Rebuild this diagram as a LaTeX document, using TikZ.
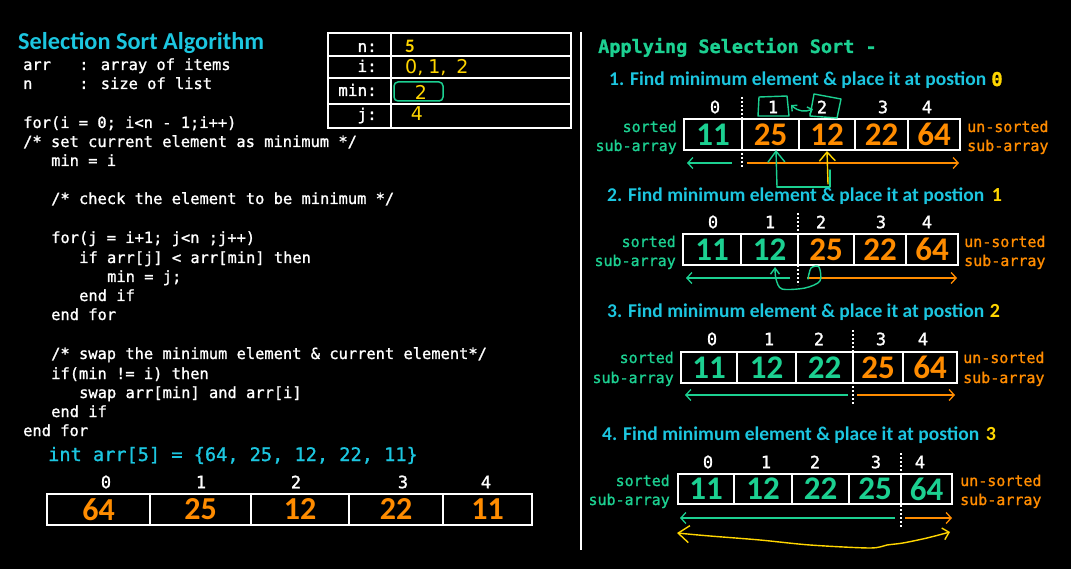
\documentclass[tikz,border=0pt]{standalone}
\usepackage{fontspec}
\setmainfont{Carlito}
\newfontfamily\codefont{DejaVu Sans Mono}[RawFeature={embolden=1.2}]
\newfontfamily\handfont{DejaVu Sans}
\usetikzlibrary{arrows.meta}
\definecolor{cyn}{RGB}{28,198,224}
\definecolor{grn}{RGB}{28,208,145}
\definecolor{org}{RGB}{255,140,0}
\definecolor{ylw}{RGB}{255,214,0}
\tikzset{
  code/.style={anchor=base west, inner sep=0pt, text=white, font=\codefont\fontsize{15.4}{18}\selectfont},
  idx/.style={text=white, inner sep=0pt, font=\codefont\fontsize{17}{18}\selectfont},
  cell/.style={draw=white, line width=1.3pt, inner sep=0pt, font=\bfseries\fontsize{33}{33}\selectfont},
  lcell/.style={draw=white, line width=1.3pt, inner sep=0pt, text=org, font=\bfseries\fontsize{32}{32}\selectfont},
  head/.style={anchor=base west, inner sep=0pt, text=cyn, font=\bfseries\fontsize{19.5}{22}\selectfont},
  posnum/.style={anchor=base, inner sep=0pt, text=ylw, font=\bfseries\fontsize{20}{22}\selectfont},
  labl/.style={inner sep=0pt, font=\codefont\fontsize{15}{17}\selectfont},
  tlab/.style={anchor=base east, inner sep=0pt, text=white, font=\codefont\fontsize{16}{18}\selectfont},
  hand/.style={inner sep=0pt, text=ylw, font=\handfont\fontsize{19}{20}\selectfont},
  sarrow/.style={draw=grn, line width=1.3pt, -{Straight Barb[length=5pt,width=11pt]}},
  uarrow/.style={draw=org, line width=1.3pt, -{Straight Barb[length=5pt,width=11pt]}},
  divline/.style={draw=white, line width=1.6pt, dash pattern=on 2pt off 2pt},
  handline/.style={line width=1.4pt, line cap=round, line join=round},
}
\begin{document}
\begin{tikzpicture}[x=1pt,y=-1pt]
\fill[black] (0,0) rectangle (1071,569);
\useasboundingbox (0,0) rectangle (1071,569);

% ---------------- left: algorithm ----------------
\node[anchor=base west, inner sep=0pt, text=cyn, font=\bfseries\fontsize{24.3}{26}\selectfont] (title) at (18,50) {Selection Sort Algorithm};
\node[code] (c1a) at (23,70) {arr};
\node[code] (c1b) at (79,70) {: array of items};
\node[code] (c2a) at (23,89) {n};
\node[code] (c2b) at (79,89) {: size of list};
\node[code] (c3) at (23,128) {for(i = 0; i<n - 1;i++)};
\node[code] (c4) at (23,147) {/* set current element as minimum */};
\node[code] (c5) at (51,166) {min = i};
\node[code] (c6) at (51,204) {/* check the element to be minimum */};
\node[code] (c7) at (51,243) {for(j = i+1; j<n ;j++)};
\node[code] (c8) at (79,263) {if arr[j] < arr[min] then};
\node[code] (c9) at (107,282) {min = j;};
\node[code] (c10) at (79,301) {end if};
\node[code] (c11) at (51,320) {end for};
\node[code] (c12) at (51,359) {/* swap the minimum element \& current element*/};
\node[code] (c13) at (51,379) {if(min != i) then};
\node[code] (c14) at (79,398) {swap arr[min] and arr[i]};
\node[code] (c15) at (51,417) {end if};
\node[code] (c16) at (23,436) {end for};

% variable table
\draw[white, line width=1.5pt] (328,33) rectangle (571,128);
\draw[white, line width=1.5pt] (328,56) -- (571,56) (328,78) -- (571,78) (328,104) -- (571,104) (391,33) -- (391,128);
\node[tlab] (tn) at (377,52) {n:};
\node[tlab] (ti) at (377,72) {i:};
\node[tlab] (tm) at (377,96) {min:};
\node[tlab] (tj) at (377,120) {j:};
\node[anchor=base west, inner sep=0pt, text=ylw, font=\bfseries\fontsize{19}{20}\selectfont] (vn) at (405,53) {5};
\node[hand, anchor=base west] (vi) at (405,74) {0,\hspace{5pt}1,\hspace{10pt}2};
\node[hand] (vm) at (421,92) {2};
\draw[grn, line width=1.5pt, rounded corners=4pt] (394,82) rectangle (443,101);
\node[hand] (vj) at (417,114) {4};

% initial array
\node[anchor=base west, inner sep=0pt, text=cyn, font=\codefont\fontsize{18.6}{20}\selectfont] (init) at (48,461) {int arr[5] = \{64, 25, 12, 22, 11\}};
\foreach \i/\x in {0/106,1/201,2/296,3/403,4/486}
  \node[idx] (b\i) at (\x,482) {\i};
\foreach \i/\xa/\xb/\v in {0/47/150/64,1/150/251/25,2/251/349/12,3/349/443/22,4/443/532/11}
  \node[lcell, minimum width={\xb-\xa}, minimum height=31] (bc\i) at ({(\xa+\xb)/2},509.5) {\v};

% vertical divider
\draw[white, line width=1.5pt] (581,32) -- (581,550);

% ---------------- right: applying ----------------
\node[anchor=base west, inner sep=0pt, text=grn, font=\codefont\bfseries\fontsize{18.5}{20}\selectfont] (apply) at (598,53) {Applying Selection Sort -};

% ===== step 1 =====
\node[head] (h1) at (609,86) {1. Find minimum element \& place it at postion};
\node[anchor=base, inner sep=0pt, text=ylw, font=\codefont\bfseries\fontsize{19}{20}\selectfont] (p1) at (997,86) {0};
\foreach \i/\x in {0/715,1/773,2/822,3/883,4/927}
  \node[idx] (r1i\i) at (\x,107) {\i};
\foreach \i/\xa/\xb/\c/\v in {0/684/742/grn/11,1/742/799/org/25,2/799/855/org/12,3/855/908/org/22,4/908/960/org/64}
  \node[cell, text=\c, minimum width={\xb-\xa}, minimum height=31] (r1c\i) at ({(\xa+\xb)/2},134.5) {\v};
\node[labl, anchor=base east, text=grn] (r1s1) at (677,132) {sorted};
\node[labl, anchor=base east, text=grn] (r1s2) at (677,151) {sub-array};
\node[labl, anchor=base west, text=org] (r1u1) at (967,132) {un-sorted};
\node[labl, anchor=base west, text=org] (r1u2) at (967,151) {sub-array};
\coordinate (r1dt) at (742,97); \coordinate (r1db) at (742,168);
\draw[divline] (r1dt) -- (r1db);
\coordinate (r1g0) at (732,163); \coordinate (r1g1) at (687,163);
\coordinate (r1o0) at (747,163); \coordinate (r1o1) at (959,163);
\draw[sarrow] (r1g0) -- (r1g1);
\draw[uarrow] (r1o0) -- (r1o1);
% hand annotations step 1
\draw[grn, handline] (759,97) -- (787,96) -- (789,116) -- (758,116) -- cycle;
\draw[grn, handline] (814,94) -- (841,99) -- (837,118) -- (810,116) -- cycle;
\draw[grn, handline, {Straight Barb[length=4pt,width=8pt]}-{Straight Barb[length=4pt,width=8pt]}] (791,105) .. controls (799,112) and (805,112) .. (813,109);
\draw[grn, handline] (830,170) -- (830,187) -- (777,187);
\draw[grn, handline, -{Straight Barb[length=11pt,width=17pt]}] (777,187) -- (776,150);
\draw[ylw, handline, -{Straight Barb[length=9pt,width=16pt]}] (828,184) -- (827,151);

% ===== step 2 =====
\node[head] (h2) at (607,202) {2. Find minimum element \& place it at postion};
\node[posnum] (p2) at (997,202) {1};
\foreach \i/\x in {0/713,1/770,2/821,3/881,4/927}
  \node[idx] (r2i\i) at (\x,222) {\i};
\foreach \i/\xa/\xb/\c/\v in {0/683/741/grn/11,1/741/798/grn/12,2/798/854/org/25,3/854/906/org/22,4/906/958/org/64}
  \node[cell, text=\c, minimum width={\xb-\xa}, minimum height=31] (r2c\i) at ({(\xa+\xb)/2},249.5) {\v};
\node[labl, anchor=base east, text=grn] (r2s1) at (676,247) {sorted};
\node[labl, anchor=base east, text=grn] (r2s2) at (676,266) {sub-array};
\node[labl, anchor=base west, text=org] (r2u1) at (964,247) {un-sorted};
\node[labl, anchor=base west, text=org] (r2u2) at (964,266) {sub-array};
\coordinate (r2dt) at (798,213); \coordinate (r2db) at (798,285);
\draw[divline] (r2dt) -- (r2db);
\coordinate (r2g0) at (790,278); \coordinate (r2g1) at (686,278);
\coordinate (r2o0) at (807,278); \coordinate (r2o1) at (957,278);
\draw[sarrow] (r2g0) -- (r2g1);
\draw[uarrow] (r2o0) -- (r2o1);
\draw[grn, handline, -{Straight Barb[length=6pt,width=9pt]}] plot[smooth] coordinates {(808,279) (811,268) (819,267) (820,281) (805,288) (782,289) (776,279) (775,267)};

% ===== step 3 =====
\node[head] (h3) at (607,318) {3. Find minimum element \& place it at postion};
\node[posnum] (p3) at (995,318) {2};
\foreach \i/\x in {0/712,1/769,2/819,3/881,4/923}
  \node[idx] (r3i\i) at (\x,339) {\i};
\foreach \i/\xa/\xb/\c/\v in {0/681/737/grn/11,1/737/796/grn/12,2/796/853/grn/22,3/853/903/org/25,4/903/957/org/64}
  \node[cell, text=\c, minimum width={\xb-\xa}, minimum height=31] (r3c\i) at ({(\xa+\xb)/2},367.5) {\v};
\node[labl, anchor=base east, text=grn] (r3s1) at (674,363) {sorted};
\node[labl, anchor=base east, text=grn] (r3s2) at (674,383) {sub-array};
\node[labl, anchor=base west, text=org] (r3u1) at (963,363) {un-sorted};
\node[labl, anchor=base west, text=org] (r3u2) at (963,383) {sub-array};
\coordinate (r3dt) at (853,330); \coordinate (r3db) at (853,405);
\draw[divline] (r3dt) -- (r3db);
\coordinate (r3g0) at (848,395); \coordinate (r3g1) at (685,395);
\coordinate (r3o0) at (857,395); \coordinate (r3o1) at (955,395);
\draw[sarrow] (r3g0) -- (r3g1);
\draw[uarrow] (r3o0) -- (r3o1);

% ===== step 4 =====
\node[head] (h4) at (602,440) {4. Find minimum element \& place it at postion};
\node[posnum] (p4) at (991,440) {3};
\foreach \i/\x in {0/708,1/766,2/815,3/876,4/920}
  \node[idx] (r4i\i) at (\x,462) {\i};
\foreach \i/\xa/\xb/\c/\v in {0/678/734/grn/11,1/734/792/grn/12,2/792/849/grn/22,3/849/901/grn/25,4/901/952/grn/64}
  \node[cell, text=\c, minimum width={\xb-\xa}, minimum height=30] (r4c\i) at ({(\xa+\xb)/2},489) {\v};
\node[labl, anchor=base east, text=grn] (r4s1) at (670,486) {sorted};
\node[labl, anchor=base east, text=grn] (r4s2) at (670,505) {sub-array};
\node[labl, anchor=base west, text=org] (r4u1) at (960,486) {un-sorted};
\node[labl, anchor=base west, text=org] (r4u2) at (960,505) {sub-array};
\coordinate (r4dt) at (901,453); \coordinate (r4db) at (901,527);
\draw[divline] (r4dt) -- (r4db);
\coordinate (r4g0) at (895,518); \coordinate (r4g1) at (680,518);
\coordinate (r4o0) at (905,518); \coordinate (r4o1) at (952,518);
\draw[sarrow] (r4g0) -- (r4g1);
\draw[uarrow] (r4o0) -- (r4o1);
\draw[ylw, handline, {Straight Barb[length=11pt,width=17pt]}-{Straight Barb[length=6pt,width=12pt]}] plot[smooth] coordinates {(677,533) (710,536) (760,540) (810,545) (870,548) (887,545) (903,543) (927,538) (950,532)};
\end{tikzpicture}
\end{document}
